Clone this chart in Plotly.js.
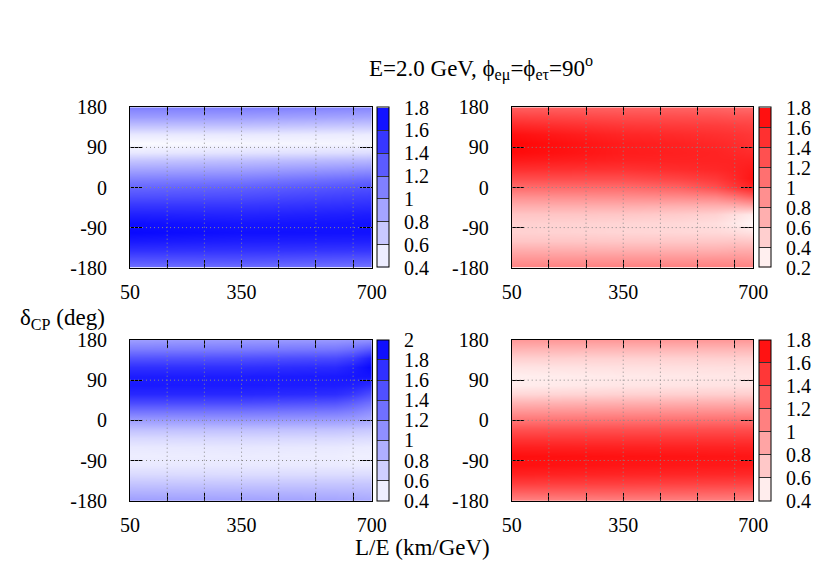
<!DOCTYPE html>
<html>
<head>
<meta charset="utf-8">
<script src="https://cdn.plot.ly/plotly-3.0.1.min.js"></script>
<style>html,body{margin:0;padding:0;background:#fff;}#plot{width:830px;height:581px;}</style>
</head>
<body>
<div id="plot"></div>
<script>
// ---- data ----
const deltaCP = [-180,-160,-140,-120,-100,-80,-60,-40,-20,0,20,40,60,80,100,120,140,160,180];

// top-left (blue)
const tlLE = [50, 350, 700];
const tlZ = [
  [1.18, 1.20, 1.16],
  [1.37, 1.38, 1.34],
  [1.53, 1.52, 1.50],
  [1.66, 1.63, 1.62],
  [1.75, 1.71, 1.70],
  [1.72, 1.68, 1.70],
  [1.62, 1.60, 1.64],
  [1.50, 1.50, 1.55],
  [1.36, 1.38, 1.46],
  [1.24, 1.27, 1.36],
  [1.08, 1.10, 1.20],
  [0.90, 0.92, 1.00],
  [0.72, 0.75, 0.80],
  [0.52, 0.55, 0.58],
  [0.42, 0.44, 0.45],
  [0.52, 0.52, 0.50],
  [0.74, 0.74, 0.70],
  [0.95, 0.94, 0.90],
  [1.10, 1.10, 1.06]
];

// top-right (red)
const trLE = [50, 200, 350, 500, 600, 650, 700];
const trZ = [
  [0.98, 0.99, 1.00, 1.00, 1.00, 0.99, 0.98],
  [0.85, 0.85, 0.85, 0.85, 0.86, 0.86, 0.85],
  [0.72, 0.71, 0.70, 0.70, 0.70, 0.72, 0.72],
  [0.56, 0.56, 0.55, 0.55, 0.55, 0.56, 0.55],
  [0.49, 0.48, 0.46, 0.45, 0.44, 0.42, 0.38],
  [0.49, 0.48, 0.46, 0.44, 0.40, 0.33, 0.25],
  [0.56, 0.56, 0.55, 0.52, 0.48, 0.40, 0.32],
  [0.72, 0.72, 0.72, 0.70, 0.70, 0.72, 0.78],
  [0.90, 0.91, 0.92, 0.94, 0.98, 1.08, 1.22],
  [1.12, 1.12, 1.12, 1.18, 1.30, 1.45, 1.58],
  [1.32, 1.32, 1.32, 1.38, 1.45, 1.55, 1.68],
  [1.50, 1.49, 1.48, 1.52, 1.55, 1.58, 1.64],
  [1.64, 1.61, 1.58, 1.58, 1.58, 1.58, 1.58],
  [1.73, 1.68, 1.62, 1.60, 1.58, 1.55, 1.52],
  [1.76, 1.69, 1.62, 1.59, 1.55, 1.52, 1.48],
  [1.70, 1.63, 1.56, 1.53, 1.50, 1.48, 1.45],
  [1.55, 1.50, 1.45, 1.43, 1.42, 1.40, 1.38],
  [1.38, 1.35, 1.32, 1.31, 1.30, 1.28, 1.28],
  [1.20, 1.19, 1.18, 1.17, 1.16, 1.14, 1.12]
];

// bottom-left (blue)
const blLE = [50, 350, 600, 650, 700];
const blZ = [
  [1.02, 1.00, 0.98, 0.97, 0.95],
  [0.89, 0.88, 0.87, 0.86, 0.85],
  [0.76, 0.75, 0.75, 0.75, 0.75],
  [0.63, 0.62, 0.62, 0.62, 0.62],
  [0.54, 0.54, 0.53, 0.52, 0.52],
  [0.51, 0.52, 0.51, 0.50, 0.50],
  [0.54, 0.55, 0.54, 0.53, 0.52],
  [0.64, 0.65, 0.64, 0.63, 0.62],
  [0.80, 0.80, 0.79, 0.77, 0.75],
  [1.02, 1.04, 1.02, 1.00, 0.95],
  [1.28, 1.28, 1.25, 1.20, 1.10],
  [1.55, 1.55, 1.50, 1.42, 1.30],
  [1.75, 1.75, 1.72, 1.65, 1.50],
  [1.84, 1.83, 1.82, 1.80, 1.72],
  [1.82, 1.82, 1.84, 1.86, 1.88],
  [1.70, 1.70, 1.74, 1.82, 1.95],
  [1.48, 1.50, 1.54, 1.62, 1.82],
  [1.22, 1.23, 1.26, 1.32, 1.45],
  [1.02, 1.04, 1.05, 1.07, 1.10]
];

// bottom-right (red)
const brLE = [50, 350, 700];
const brZ = [
  [1.06, 1.08, 1.08],
  [1.27, 1.28, 1.26],
  [1.47, 1.46, 1.44],
  [1.62, 1.60, 1.58],
  [1.71, 1.68, 1.66],
  [1.72, 1.70, 1.68],
  [1.63, 1.62, 1.61],
  [1.50, 1.50, 1.50],
  [1.35, 1.36, 1.37],
  [1.16, 1.18, 1.20],
  [0.98, 1.00, 1.02],
  [0.80, 0.82, 0.84],
  [0.62, 0.65, 0.67],
  [0.50, 0.54, 0.56],
  [0.49, 0.52, 0.54],
  [0.55, 0.57, 0.58],
  [0.66, 0.65, 0.66],
  [0.81, 0.80, 0.80],
  [0.96, 0.96, 0.96]
];

const xTickVals = [50, 350, 700];
const xTickText = ['50', '350', '700'];
const xMinorStart = 50, xMinorStep = 100;
const xGridVals = [150, 250, 350, 450, 550, 650];
const yTickVals = [-180, -90, 0, 90, 180];
const yGridVals = [-90, 0, 90];

const cbTL = [0.4, 0.6, 0.8, 1.0, 1.2, 1.4, 1.6, 1.8];
const cbTR = [0.2, 0.4, 0.6, 0.8, 1.0, 1.2, 1.4, 1.6, 1.8];
const cbBL = [0.4, 0.6, 0.8, 1.0, 1.2, 1.4, 1.6, 1.8, 2.0];
const cbBR = [0.4, 0.6, 0.8, 1.0, 1.2, 1.4, 1.6, 1.8];

// ---- layout helpers ----
const W = 830, H = 581;
const FAM = 'Liberation Serif, Times New Roman, serif';
const font = {family: FAM, size: 20, color: '#000'};
const labFont = {family: FAM, size: 23, color: '#000'};
const blues = [[0, '#ffffff'], [1, '#0000ff']];
const reds = [[0, '#ffffff'], [1, '#ff0000']];

const colX = [[130, 371.7], [511.7, 753.3]];
const rowY = [[107.3, 267.7], [340, 500.7]];
const cbLeft = [377.3, 759.3];

function px2dx(a) { return [a[0] / W, a[1] / W]; }
function px2dy(a) { return [1 - a[1] / H, 1 - a[0] / H]; }
function fmt(v) { return '\u00a0\u00a0' + (Math.round(v * 10) / 10).toString(); }

function mix(hex, f) {
  const r = parseInt(hex.substr(1, 2), 16), g = parseInt(hex.substr(3, 2), 16), b = parseInt(hex.substr(5, 2), 16);
  const m = function (c) { return Math.round(255 + (c - 255) * f); };
  return 'rgb(' + m(r) + ',' + m(g) + ',' + m(b) + ')';
}
function stepped(hex, n) {
  const cs = [];
  for (let i = 0; i < n; i++) {
    const c = mix(hex, (i + 0.5) / n);
    cs.push([i / n, c]);
    cs.push([(i + 1) / n, c]);
  }
  return cs;
}

function panel(le, z, scale, hex, ticks, xa, ya, col, row) {
  const dy = px2dy(rowY[row]);
  const lo = ticks[0], hi = ticks[ticks.length - 1];
  // colour-box trace: sits outside the visible axis range, only its colour bar is seen
  const bar = {
    type: 'heatmap', x: [-5000, -4000], y: [-5000, -4000], z: [[lo, hi], [hi, lo]],
    xaxis: xa, yaxis: ya, hoverinfo: 'skip',
    colorscale: stepped(hex, ticks.length - 1), zmin: lo, zmax: hi,
    showscale: true,
    colorbar: {
      x: cbLeft[col] / W, xanchor: 'left', xpad: 0, ypad: 0,
      y: (dy[0] + dy[1]) / 2, yanchor: 'middle', len: dy[1] - dy[0], lenmode: 'fraction',
      thickness: 12, thicknessmode: 'pixels',
      outlinewidth: 1, outlinecolor: '#000',
      tickvals: ticks, ticktext: ticks.map(fmt),
      ticks: 'inside', ticklen: 12, tickcolor: '#333', tickwidth: 1,
      tickfont: font
    }
  };
  const main = {
    type: 'heatmap', x: le, y: deltaCP, z: z,
    xaxis: xa, yaxis: ya, zsmooth: 'best',
    colorscale: scale, zmin: lo, zmax: hi,
    hoverinfo: 'skip', showscale: false
  };
  return [bar, main];
}

const data = [].concat(
  panel(tlLE, tlZ, blues, '#0000ff', cbTL, 'x', 'y', 0, 0),
  panel(trLE, trZ, reds, '#ff0000', cbTR, 'x2', 'y2', 1, 0),
  panel(blLE, blZ, blues, '#0000ff', cbBL, 'x3', 'y3', 0, 1),
  panel(brLE, brZ, reds, '#ff0000', cbBR, 'x4', 'y4', 1, 1)
);

function xax(col, anchor) {
  return {
    domain: px2dx(colX[col]), anchor: anchor, range: [50, 700], autorange: false,
    tickvals: xTickVals, ticktext: xTickText, ticks: 'inside', ticklen: 8,
    minor: {ticks: 'inside', ticklen: 8, tick0: xMinorStart, dtick: xMinorStep, tickcolor: '#000', showgrid: false},
    tickcolor: '#000', showline: true, linecolor: '#000', linewidth: 1, mirror: 'ticks',
    showgrid: false, zeroline: false, tickfont: font, layer: 'above traces',
    ticklabelstandoff: 6
  };
}
function yax(row, anchor) {
  return {
    domain: px2dy(rowY[row]), anchor: anchor, range: [-180, 180], autorange: false,
    tickvals: yTickVals, ticktext: yTickVals.map(String), ticks: 'inside', ticklen: 12,
    tickcolor: '#000', showline: true, linecolor: '#000', linewidth: 1, mirror: 'ticks',
    showgrid: false, zeroline: false, tickfont: font, layer: 'above traces',
    ticklabelstandoff: 18
  };
}

const shapes = [];
[['x','y'],['x2','y2'],['x3','y3'],['x4','y4']].forEach(function (p) {
  xGridVals.forEach(function (v) {
    shapes.push({type: 'line', xref: p[0], yref: p[1], x0: v, x1: v, y0: -180, y1: 180,
      line: {color: '#8a8a8a', width: 1, dash: '1px,3px'}, layer: 'above'});
  });
  yGridVals.forEach(function (v) {
    shapes.push({type: 'line', xref: p[0], yref: p[1], x0: 50, x1: 700, y0: v, y1: v,
      line: {color: '#8a8a8a', width: 1, dash: '1px,3px'}, layer: 'above'});
  });
});

const layout = {
  width: W, height: H, margin: {l: 0, r: 0, t: 0, b: 0},
  paper_bgcolor: '#fff', plot_bgcolor: '#fff', showlegend: false,
  font: font,
  xaxis: xax(0, 'y'), yaxis: yax(0, 'x'),
  xaxis2: xax(1, 'y2'), yaxis2: yax(0, 'x2'),
  xaxis3: xax(0, 'y3'), yaxis3: yax(1, 'x3'),
  xaxis4: xax(1, 'y4'), yaxis4: yax(1, 'x4'),
  shapes: shapes,
  annotations: [
    {text: 'E=2.0 GeV, ϕ<sub>eμ</sub>=ϕ<sub>eτ</sub>=90<sup>o</sup>', xref: 'paper', yref: 'paper',
     x: 481 / W, y: 1 - 68 / H, xanchor: 'center', yanchor: 'middle', showarrow: false, font: labFont},
    {text: 'δ<sub>CP</sub> (deg)', xref: 'paper', yref: 'paper',
     x: 18 / W, y: 1 - 319 / H, xanchor: 'left', yanchor: 'middle', showarrow: false, font: labFont},
    {text: 'L/E (km/GeV)', xref: 'paper', yref: 'paper',
     x: 423 / W, y: 1 - 547 / H, xanchor: 'center', yanchor: 'middle', showarrow: false, font: labFont}
  ]
};

Plotly.newPlot('plot', data, layout, {displayModeBar: false, staticPlot: true});
</script>
</body>
</html>
